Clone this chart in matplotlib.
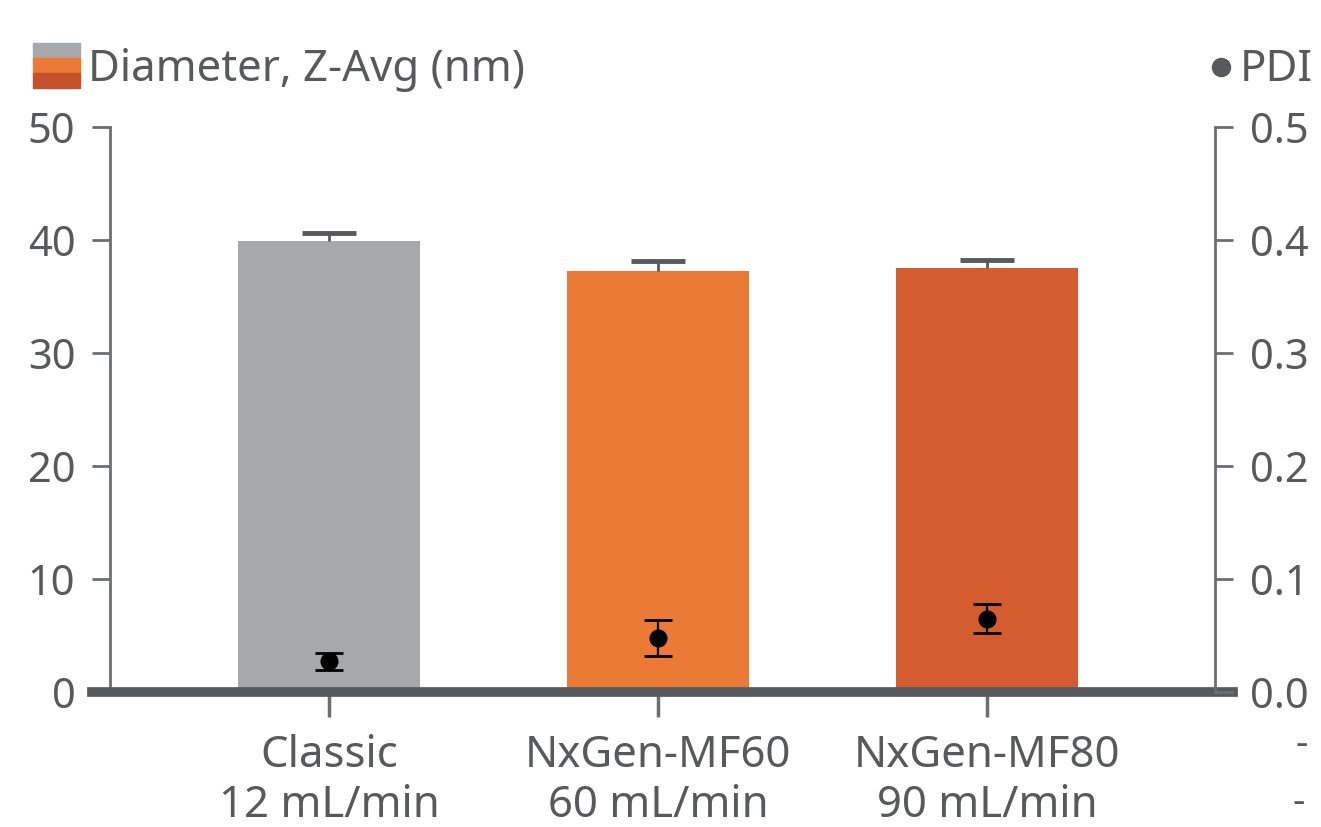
import matplotlib.pyplot as plt
from matplotlib.patches import Rectangle
from matplotlib.lines import Line2D
import numpy as np

# data
categories = ['Classic\n12 mL/min', 'NxGen-MF60\n60 mL/min', 'NxGen-MF80\n90 mL/min']
diameter = [39.9, 37.3, 37.5]
diameter_err = [0.7, 0.8, 0.7]
pdi = [0.027, 0.048, 0.065]
pdi_err = [0.0075, 0.016, 0.013]
left_ticks = [0, 10, 20, 30, 40, 50]
right_ticks = [0.0, 0.1, 0.2, 0.3, 0.4, 0.5]

bar_colors = ['#A7A8AC', '#EC7A37', '#D55C2F']
grey = '#58595B'
spine_grey = '#6D6E71'

plt.rcParams['font.family'] = ['Noto Sans', 'DejaVu Sans']

fig = plt.figure(figsize=(13.21, 8.27), dpi=100)
ax = fig.add_axes([110 / 1321, 1 - 692 / 827, (1215 - 110) / 1321, (692 - 127) / 827])
ax2 = ax.twinx()

x = np.arange(len(categories))
ax.bar(x, diameter, width=0.553, color=bar_colors, zorder=2)
# only the upper half of the error bar, drawn by hand
tops = np.array(diameter) + np.array(diameter_err)
ax.vlines(x, diameter, tops, color=grey, lw=2, zorder=3)
ax.hlines(tops, x - 0.082, x + 0.082, color=grey, lw=3.5, zorder=3)

ax2.errorbar(x, pdi, yerr=pdi_err, fmt='o', color='black', ms=12,
             elinewidth=1.6, capsize=10, capthick=2, zorder=5)

ax.set_xlim(-0.666, 2.693)
ax.set_ylim(0, 50)
ax2.set_ylim(0, 0.5)

for a in (ax, ax2):
    for s in ('top', 'bottom'):
        a.spines[s].set_visible(False)
ax.spines['right'].set_visible(False)
ax2.spines['left'].set_visible(False)
ax.spines['left'].set_color(spine_grey)
ax.spines['left'].set_linewidth(2)
ax2.spines['right'].set_color(spine_grey)
ax2.spines['right'].set_linewidth(2)

ax.set_yticks(left_ticks)
ax.set_yticklabels([str(t) for t in left_ticks])
ax2.set_yticks(right_ticks)
ax2.set_yticklabels([f'{t:.1f}' for t in right_ticks])
ax.tick_params(axis='y', length=13, width=2, color=spine_grey, labelsize=30,
               labelcolor=grey, pad=12)
ax2.tick_params(axis='y', length=13, width=2, color=spine_grey, labelsize=30,
                labelcolor=grey, pad=12)

ax.set_xticks(x)
ax.set_xticklabels(categories, fontsize=31.5, color=grey, linespacing=1.2)
ax.tick_params(axis='x', length=18, width=2.5, color=spine_grey, pad=12)

# thick baseline
ax.add_line(Line2D([-0.0163, 1.0163], [0, 0], transform=ax.transAxes,
                   color=grey, lw=7, clip_on=False, zorder=4))

# legend drawn by hand
for i, c in enumerate(['#A7A8AC', '#EC7A37', '#C4512A']):
    fig.patches.append(Rectangle((33 / 1321, 1 - (58 + 15 * i) / 827), 47 / 1321, 15 / 827,
                                 transform=fig.transFigure, color=c))
fig.text(88 / 1321, 1 - 70 / 827, 'Diameter, Z-Avg (nm)', fontsize=31.5, color=grey, va='center')
fig.add_artist(Line2D([1221 / 1321], [1 - 67 / 827], marker='o', ms=13, color=grey,
                      transform=fig.transFigure))
fig.text(1240 / 1321, 1 - 70 / 827, 'PDI', fontsize=31.5, color=grey, va='center')

# stray dashes at the right edge
fig.text(1302 / 1321, 1 - 745 / 827, '-', fontsize=28, color=grey, ha='center', va='center')
fig.text(1299 / 1321, 1 - 803 / 827, '-', fontsize=28, color=grey, ha='center', va='center')

fig.savefig('out.png', dpi=100)
